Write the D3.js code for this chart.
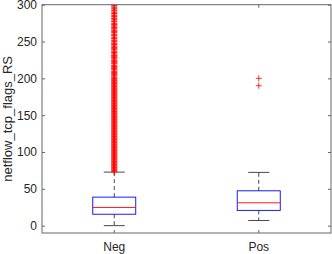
<!DOCTYPE html>
<html lang="en">
<head>
  <meta charset="UTF-8"/>
  <title>netflow_tcp_flags_RS boxplot</title>
  <script src="https://d3js.org/d3.v7.min.js"></script>
  <style>
    body { margin:0; background:#fff; font-family:"Liberation Sans",Arial,sans-serif; }
    svg { display:block; }
  </style>
</head>
<body>
  <svg width="332" height="254"></svg>
  <script>
    // box statistics per class
    const categories  = ['Neg', 'Pos'];
    const whiskerLow  = [0, 7];
    const q1          = [15.5, 20.7];
    const median      = [24.7, 31];
    const q3          = [38.7, 47.3];
    const whiskerHigh = [72.7, 72.3];
    const yTicks      = [0, 50, 100, 150, 200, 250, 300];

    // outliers (values above the upper whisker)
    const negOutliers = [
      73,74,75,76,77,78,79,80,81,82,83,84,85,86,87,88,89,90,91,92,93,94,95,96,97,98,99,
      100,101,102,103,104,105,106,107,108,109,110,111,112,113,114,115,116,117,118,119,120,
      121,122,123,124,125,126,127,128,129,130,131,132,133,134,135,136,137,138,139,140,
      141,142,143,144,145,146,147,148,149,150,151,152,153,154,155,156,157,158,159,160,
      161,162,163,164,165,166,167,168,169,170,171,172,173,174,175,176,177,178,179,180,
      181,182,183,184,185,186,187,188,189,190,191,192,193,194,195,196,197,198,199,200,
      201,202,204,205,206,207,208,209,210,212,213,214,215,216,217,218,220,
      221,222,223,224,225,227,228,229,230,231,232,234,235,236,237,239,240,
      241,242,243,245,246,247,248,250,251,252,254,255,256,258,259,260,
      262,263,264,265,267,268,269,270,272,273,274,275,277,278,280,
      281,282,284,285,286,288,289,290,292,293,295,296,298,299,300
    ];
    const posOutliers = [190, 200];

    const svg = d3.select('svg');
    const pL = 42, pR = 331, pT = 4.7, pB = 233;

    const x = d3.scaleBand().domain(categories).range([pL, pR]).paddingInner(0);
    const y = d3.scaleLinear().domain([-10, 300]).range([pB, pT]);
    const cx = d => x(d) + x.bandwidth()/2;

    svg.append('defs').append('clipPath').attr('id','plotClip')
      .append('rect').attr('x',pL).attr('y',pT)
      .attr('width',pR-pL).attr('height',pB-pT);

    const g = svg.append('g').attr('clip-path','url(#plotClip)');
    const boxW = 43, capW = 21;

    categories.forEach((c,i)=>{
      const xc = cx(c);
      // dashed whiskers
      g.append('line').attr('x1',xc).attr('x2',xc)
        .attr('y1',y(q3[i])).attr('y2',y(whiskerHigh[i]))
        .attr('stroke','#333').attr('stroke-width',0.9).attr('stroke-dasharray','4,3');
      g.append('line').attr('x1',xc).attr('x2',xc)
        .attr('y1',y(q1[i])).attr('y2',y(whiskerLow[i]))
        .attr('stroke','#333').attr('stroke-width',0.9).attr('stroke-dasharray','4,3');
      // caps
      [whiskerLow[i], whiskerHigh[i]].forEach(v=>{
        g.append('line').attr('x1',xc-capW/2).attr('x2',xc+capW/2)
          .attr('y1',y(v)).attr('y2',y(v))
          .attr('stroke','#333').attr('stroke-width',0.9);
      });
      // box
      g.append('rect').attr('x',xc-boxW/2).attr('width',boxW)
        .attr('y',y(q3[i])).attr('height',y(q1[i])-y(q3[i]))
        .attr('fill','none').attr('stroke','#0000ff').attr('stroke-width',0.9);
      // median
      g.append('line').attr('x1',xc-boxW/2).attr('x2',xc+boxW/2)
        .attr('y1',y(median[i])).attr('y2',y(median[i]))
        .attr('stroke','#ff0000').attr('stroke-width',0.9);
    });

    // outlier '+' markers
    const plus = (xc, v)=>{
      const yy = y(v), s = 3;
      g.append('path')
        .attr('d',`M${xc-s},${yy}H${xc+s}M${xc},${yy-s}V${yy+s}`)
        .attr('stroke','#ff0000').attr('stroke-width',0.8).attr('fill','none');
    };
    negOutliers.forEach(v=>plus(cx('Neg'), v));
    posOutliers.forEach(v=>plus(cx('Pos'), v));

    // axes (MATLAB style box with inward ticks)
    const axisColor = '#666';
    const yAxis = svg.append('g').attr('transform',`translate(${pL},0)`)
      .call(d3.axisLeft(y).tickValues(yTicks).tickSize(-3).tickPadding(5));
    const yAxisR = svg.append('g').attr('transform',`translate(${pR},0)`)
      .call(d3.axisRight(y).tickValues(yTicks).tickSize(-3).tickFormat(''));
    const xAxis = svg.append('g').attr('transform',`translate(0,${pB})`)
      .call(d3.axisBottom(x).tickSize(-3).tickPadding(9));
    const xAxisT = svg.append('g').attr('transform',`translate(0,${pT})`)
      .call(d3.axisTop(x).tickSize(-3).tickFormat(''));

    [yAxis, yAxisR, xAxis, xAxisT].forEach(a=>{
      a.select('.domain').remove();
      a.selectAll('.tick line').attr('stroke',axisColor);
      a.selectAll('text').attr('fill','#262626')
        .style('font-family','"Liberation Sans",Arial,sans-serif').style('font-size','12px');
    });

    svg.append('rect').attr('x',pL).attr('y',pT)
      .attr('width',pR-pL).attr('height',pB-pT)
      .attr('fill','none').attr('stroke',axisColor).attr('stroke-width',1);

    svg.append('text')
      .attr('transform',`translate(12,${(pT+pB)/2}) rotate(-90)`)
      .attr('text-anchor','middle')
      .attr('fill','#262626')
      .style('font-size','13px')
      .text('netflow_tcp_flags_RS');
  </script>
</body>
</html>
